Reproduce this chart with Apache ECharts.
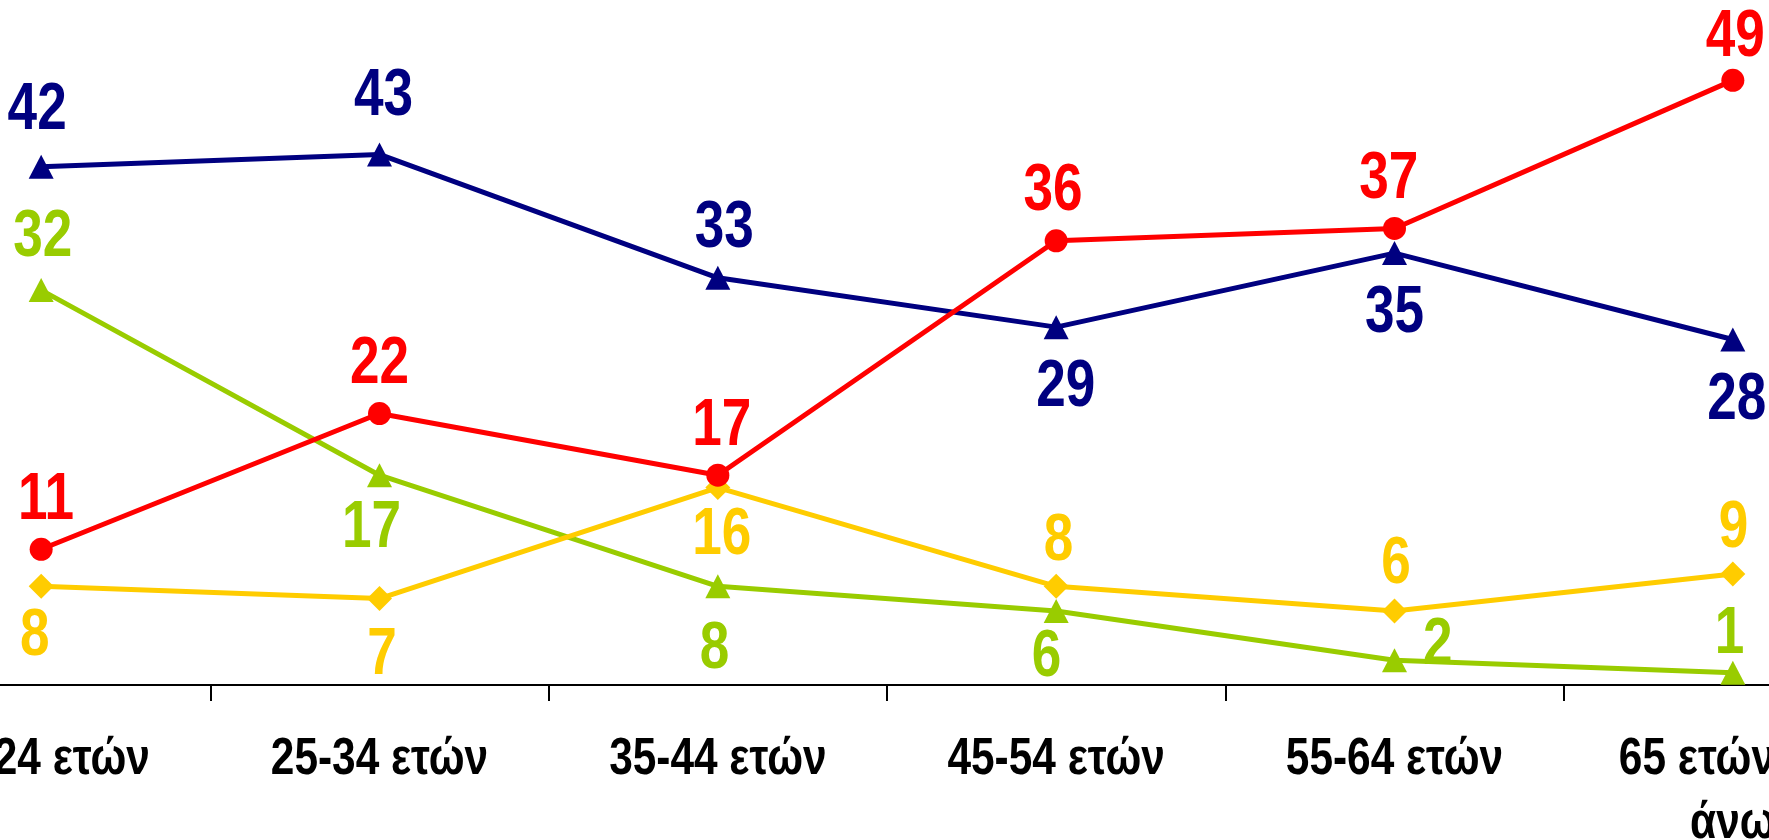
<!DOCTYPE html>
<html>
<head>
<meta charset="utf-8">
<script src="https://cdn.jsdelivr.net/npm/echarts@6/dist/echarts.min.js"></script>
<style>
html,body{margin:0;padding:0;background:#fff;overflow:hidden;width:1769px;height:840px;position:relative;}
#chart{position:absolute;left:-128px;top:0;width:2030px;height:840px;}
</style>
</head>
<body>
<div id="chart"></div>
<script>
const categories = ['18-24 ετών', '25-34 ετών', '35-44 ετών', '45-54 ετών', '55-64 ετών', '65 ετών και άνω'];
const redValues    = [11, 22, 17, 36, 37, 49];
const navyValues   = [42, 43, 33, 29, 35, 28];
const greenValues  = [32, 17, 8, 6, 2, 1];
const yellowValues = [8, 7, 16, 8, 6, 9];

// label placement per point (style config only)
const redPos    = ['top', 'top', 'top', 'top', 'top', 'top'];
const navyPos   = ['top', 'top', 'top', 'bottom', 'bottom', 'bottom'];
const greenPos  = ['top', 'bottom', 'bottom', 'bottom', 'right', 'top'];
const yellowPos = ['bottom', 'bottom', 'bottom', 'top', 'top', 'top'];
const redDist    = [4, 4, 4, 4, 4, -2];
const navyDist   = [11, 13, 4, 16, 16, 16];
const greenDist  = [7, 9, 19, 2, 16, -7];
const yellowDist = [5, 12, 3, -1, 1, 0];
const redDx    = [6, 0, 5, -4, -7, 3];
const navyDx   = [-5, 5, 8, 12, 0, 5];
const greenDx  = [2, -10, -4, -12, 0, -4];
const yellowDx = [-8, 3, 5, 3, 2, 1];

const FONT = '"Liberation Sans", Arial, sans-serif';
const LABEL_SIZE = 66;
const AXIS_SIZE = 52;

function makeData(values, positions, dists, dxs) {
  return values.map((v, i) => {
    const pos = positions[i];
    const lab = { position: pos, distance: dists[i], offset: [dxs[i], 0] };
    if (pos === 'right') { lab.offset = [0, -15]; }
    return { value: v, label: lab };
  });
}

function series(name, values, positions, dists, dxs, color, symbol, size) {
  return {
    name: name,
    type: 'line',
    data: makeData(values, positions, dists, dxs),
    symbol: symbol,
    symbolSize: size,
    lineStyle: { color: color, width: 5 },
    itemStyle: { color: color },
    label: {
      show: true,
      color: color,
      fontFamily: FONT,
      fontWeight: 'bold',
      fontSize: LABEL_SIZE,
      lineHeight: LABEL_SIZE
    },
    emphasis: { disabled: true },
    animation: false,
    z: 3
  };
}

const chart = echarts.init(document.getElementById('chart'));
chart.setOption({
  backgroundColor: '#ffffff',
  animation: false,
  grid: { left: 0, right: 0, top: 68, bottom: 155, containLabel: false, outerBoundsMode: 'none' },
  xAxis: {
    type: 'category',
    data: categories,
    boundaryGap: true,
    axisLine: { show: true, lineStyle: { color: '#000', width: 2 } },
    axisTick: { show: true, length: 16, lineStyle: { color: '#000', width: 2 } },
    axisLabel: {
      interval: 0,
      margin: 43,
      color: '#000',
      fontFamily: FONT,
      fontWeight: 'bold',
      fontSize: AXIS_SIZE,
      lineHeight: 64,
      formatter: v => v.replace(' άνω', '\nάνω')
    },
    splitLine: { show: false }
  },
  yAxis: {
    type: 'value',
    min: 0,
    max: 50,
    interval: 10,
    show: false,
    splitLine: { show: false }
  },
  series: [
    series('Σειρά 1', navyValues, navyPos, navyDist, navyDx, '#000080', 'triangle', [25, 24]),
    series('Σειρά 2', greenValues, greenPos, greenDist, greenDx, '#99CC00', 'triangle', [25, 24]),
    series('Σειρά 3', yellowValues, yellowPos, yellowDist, yellowDx, '#FFCC00', 'diamond', [25, 25]),
    series('Σειρά 4', redValues, redPos, redDist, redDx, '#FF0000', 'circle', 23)
  ]
});

// Narrow the bold text horizontally to mimic a condensed (narrow) typeface
(function condense() {
  const zr = chart.getZr();
  const seen = new Set();
  function visit(el) {
    if (!el || seen.has(el)) return;
    seen.add(el);
    if (el.type === 'text' && el.style) {
      const fs = +el.style.fontSize || 0;
      const font = String(el.style.font || '');
      const big = fs === LABEL_SIZE || font.indexOf(LABEL_SIZE + 'px') >= 0;
      el.scaleX = big ? 0.805 : 0.815;
      el.originX = 0; el.originY = 0;
      el.markRedraw && el.markRedraw();
    }
    if (el.isGroup && el.childrenRef) el.childrenRef().forEach(visit);
    if (el.getTextContent) visit(el.getTextContent());
  }
  zr.storage.getRoots().forEach(visit);
  zr.refreshImmediately();
})();
</script>
</body>
</html>
